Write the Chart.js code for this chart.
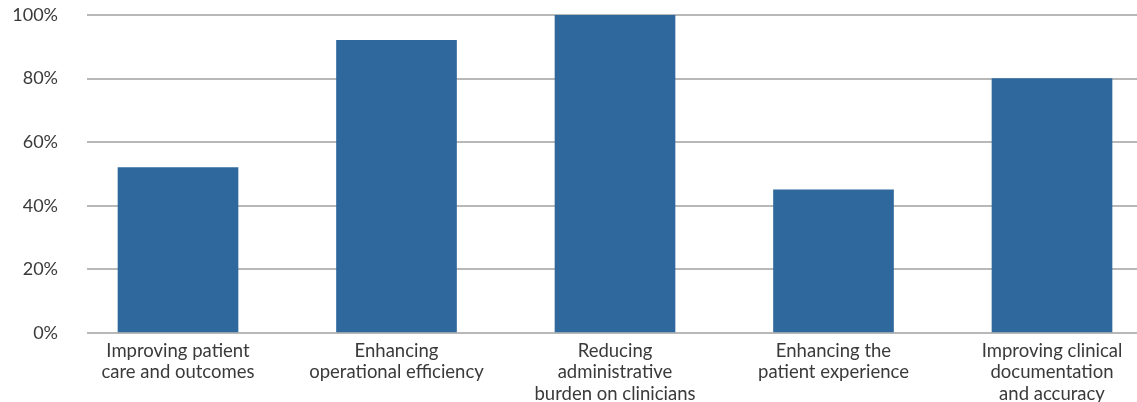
<!DOCTYPE html>
<html>
<head>
<meta charset="utf-8">
<script src="https://cdn.jsdelivr.net/npm/chart.js@4"></script>
<style>
  html, body { margin: 0; padding: 0; background: #fff; }
  #wrap { width: 1137px; height: 402px; position: relative; }
</style>
</head>
<body>
<div id="wrap"><canvas id="chartBarras"></canvas></div>
<script>
// Datos del gráfico
const categorias = [
  ['Improving patient', 'care and outcomes'],
  ['Enhancing', 'operational efficiency'],
  ['Reducing', 'administrative', 'burden on clinicians'],
  ['Enhancing the', 'patient experience'],
  ['Improving clinical', 'documentation', 'and accuracy']
];
const valores = [52, 92, 100, 45, 80];
const ticksY = [0, 20, 40, 60, 80, 100];

const fuente = 'Lato, "Open Sans", sans-serif';

// Posiciones de categoría en un eje lineal (para desplazar el área de gráfico)
const posiciones = categorias.map((c, i) => i);

const ctx = document.getElementById('chartBarras');
new Chart(ctx, {
  type: 'bar',
  data: {
    datasets: [{
      data: valores.map((v, i) => ({ x: posiciones[i], y: v })),
      backgroundColor: '#2f689c',
      borderWidth: 0,
      barThickness: 120
    }]
  },
  options: {
    responsive: true,
    maintainAspectRatio: false,
    animation: false,
    layout: { padding: { top: 15, right: 0, left: 0, bottom: 0 } },
    plugins: {
      legend: { display: false },
      tooltip: { enabled: false }
    },
    scales: {
      x: {
        type: 'linear',
        offset: false,
        min: -0.4165,
        max: 4.389,
        grid: { display: false, drawTicks: false },
        border: { display: false },
        afterBuildTicks: scale => {
          scale.ticks = posiciones.map(v => ({ value: v }));
        },
        afterFit: scale => { scale.height = 69; },
        ticks: {
          autoSkip: false,
          maxRotation: 0,
          padding: 7,
          color: '#3a3a3a',
          font: { family: fuente, size: 18.5, lineHeight: 1.17 },
          callback: v => categorias[v]
        }
      },
      y: {
        min: 0,
        max: 100,
        afterBuildTicks: scale => {
          scale.ticks = ticksY.map(v => ({ value: v }));
        },
        afterFit: scale => { scale.width = 87; },
        grid: {
          color: '#b8b8b8',
          lineWidth: 2,
          drawTicks: true,
          tickLength: 29,
          tickColor: 'rgba(0,0,0,0)'
        },
        border: { display: false },
        ticks: {
          padding: 0,
          color: '#3a3a3a',
          font: { family: fuente, size: 18 },
          callback: v => v + '%'
        }
      }
    }
  }
});
</script>
</body>
</html>
